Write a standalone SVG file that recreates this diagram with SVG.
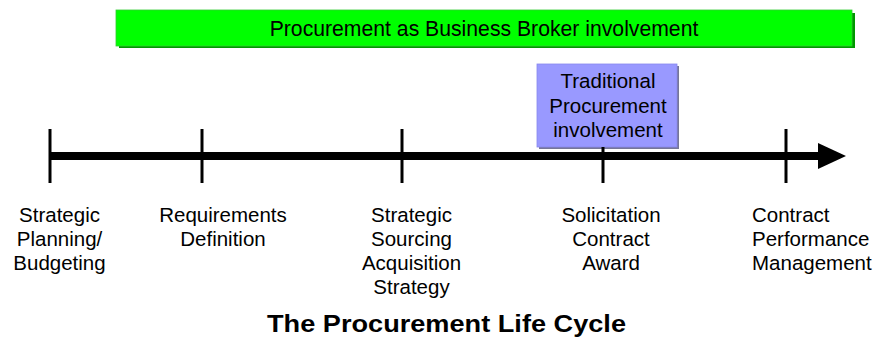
<svg xmlns="http://www.w3.org/2000/svg" width="879" height="339" viewBox="0 0 879 339">
  <defs>
    <style>
      .lbl { font-family: "Liberation Sans", Arial, sans-serif; font-size: 20.5px; fill: #000; }
      .band { font-size: 21.2px; }
      .mid { text-anchor: middle; }
      .title { font-family: "Liberation Sans", Arial, sans-serif; font-size: 24px; font-weight: bold; text-anchor: middle; fill: #000; }
      .tick { stroke: #000; stroke-width: 3; }
    </style>
    <marker id="arrowHead" markerWidth="28" markerHeight="26" refX="0" refY="13" markerUnits="userSpaceOnUse" orient="auto">
      <path d="M0,0 L28,13 L0,26 Z" fill="#000"/>
    </marker>
  </defs>
  <rect width="879" height="339" fill="#fff"/>

  <!-- broker involvement band -->
  <g id="broker-band">
    <rect x="119" y="13" width="736" height="35" fill="#009900"/>
    <rect x="116" y="10" width="736" height="36" fill="#00ff00" stroke="#33cc33" stroke-width="0.8"/>
    <text class="lbl band mid" x="484" y="36">Procurement as Business Broker involvement</text>
  </g>

  <!-- traditional involvement box -->
  <g id="traditional-box">
    <rect x="539" y="66" width="140" height="83" fill="#777799"/>
    <rect x="537" y="64" width="140" height="83" fill="#9999ff" stroke="#8888ee" stroke-width="0.8"/>
    <text class="lbl mid" x="608" y="88">Traditional</text>
    <text class="lbl mid" x="608" y="112.5">Procurement</text>
    <text class="lbl mid" x="608" y="137">involvement</text>
  </g>

  <!-- timeline axis and stage ticks -->
  <g id="connectors">
    <line x1="50" y1="156" x2="818" y2="156" stroke="#000" stroke-width="8" marker-end="url(#arrowHead)"/>
    <line class="tick" x1="50" y1="129" x2="50" y2="183"/>
    <line class="tick" x1="202" y1="129" x2="202" y2="183"/>
    <line class="tick" x1="402" y1="129" x2="402" y2="183"/>
    <line class="tick" x1="603" y1="147" x2="603" y2="183"/>
    <line class="tick" x1="786" y1="129" x2="786" y2="183"/>
  </g>

  <g id="stage-planning">
    <text class="lbl mid" x="59.5" y="222">Strategic</text>
    <text class="lbl mid" x="59.5" y="246">Planning/</text>
    <text class="lbl mid" x="59.5" y="270">Budgeting</text>
  </g>
  <g id="stage-requirements">
    <text class="lbl mid" x="223" y="222">Requirements</text>
    <text class="lbl mid" x="223" y="246">Definition</text>
  </g>
  <g id="stage-sourcing">
    <text class="lbl mid" x="411.5" y="222">Strategic</text>
    <text class="lbl mid" x="411.5" y="246">Sourcing</text>
    <text class="lbl mid" x="411.5" y="270">Acquisition</text>
    <text class="lbl mid" x="411.5" y="294">Strategy</text>
  </g>
  <g id="stage-solicitation">
    <text class="lbl mid" x="611" y="222">Solicitation</text>
    <text class="lbl mid" x="611" y="246">Contract</text>
    <text class="lbl mid" x="611" y="270">Award</text>
  </g>
  <g id="stage-performance">
    <text class="lbl" x="752" y="222">Contract</text>
    <text class="lbl" x="752" y="246">Performance</text>
    <text class="lbl" x="752" y="270">Management</text>
  </g>

  <text class="title" x="446.5" y="332" textLength="359" lengthAdjust="spacingAndGlyphs">The Procurement Life Cycle</text>
</svg>
